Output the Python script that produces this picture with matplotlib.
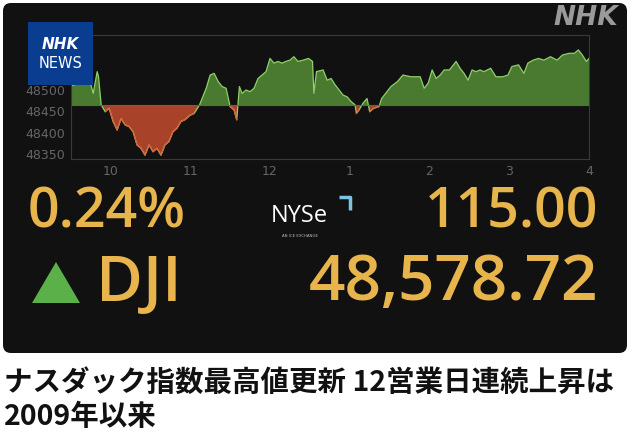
import matplotlib.pyplot as plt
import numpy as np
from matplotlib.patches import FancyBboxPatch, Rectangle, Polygon

# DJI intraday (minutes after 9:30 open, index level)
minutes = [0, 8, 14, 17, 20, 21, 23, 26, 29, 32, 35, 38, 41, 44, 47, 50, 53, 56, 59, 62,
           65, 68, 71, 74, 77, 80, 83, 86, 90, 93, 97, 102, 105, 108, 111, 114, 117, 120, 123, 125,
           127, 129, 132, 135, 138, 141, 147, 150, 153, 156, 159, 162, 165, 168, 171, 175, 179, 182, 183, 185,
           190, 193, 196, 199, 202, 205, 208, 211, 214, 215, 217, 220, 223, 225, 228, 232, 234, 237, 241, 246,
           250, 256, 263, 266, 269, 272, 275, 278, 281, 285, 290, 293, 296, 299, 302, 305, 308, 311, 316, 320,
           325, 329, 332, 337, 341, 344, 348, 352, 356, 361, 366, 370, 375, 379, 382, 385, 388, 390]
values = [48510, 48516, 48527, 48492, 48543, 48531, 48465, 48449, 48457, 48426, 48406, 48433, 48418, 48414, 48402, 48371, 48363, 48347, 48371, 48355,
          48363, 48347, 48371, 48379, 48402, 48410, 48426, 48430, 48441, 48445, 48465, 48504, 48535, 48539, 48520, 48508, 48504, 48461, 48453, 48430,
          48508, 48492, 48500, 48496, 48504, 48527, 48543, 48574, 48563, 48567, 48563, 48567, 48570, 48578, 48567, 48570, 48574, 48567, 48492, 48543,
          48547, 48523, 48527, 48512, 48500, 48488, 48484, 48473, 48465, 48445, 48453, 48469, 48480, 48449, 48457, 48461, 48480, 48492, 48508, 48520,
          48535, 48531, 48531, 48504, 48516, 48547, 48527, 48535, 48547, 48547, 48567, 48551, 48539, 48523, 48547, 48543, 48547, 48543, 48551, 48531,
          48531, 48535, 48555, 48559, 48539, 48563, 48570, 48574, 48570, 48578, 48570, 48582, 48586, 48586, 48594, 48582, 48567, 48574]
prev_close = 48463.72
yticks = [48350, 48400, 48450, 48500]
xtick_min = [30, 90, 150, 210, 270, 330, 390]
xtick_labels = ['10', '11', '12', '1', '2', '3', '4']

W, H = 632, 443
fig = plt.figure(figsize=(W / 100, H / 100), dpi=100)
fig.patch.set_facecolor('white')

bg = fig.add_axes([0, 0, 1, 1])
bg.set_xlim(0, W)
bg.set_ylim(H, 0)
bg.axis('off')
bg.add_patch(FancyBboxPatch((3, 3), 624, 350, boxstyle='round,pad=0,rounding_size=8',
                            fc='#111111', ec='none'))

gold = '#e8b44c'
num_font = 'Open Sans'
bg.text(28, 213, '0.24%', color=gold, fontsize=40, family=num_font, fontweight='semibold', va='center', ha='left')
bg.text(598, 213, '115.00', color=gold, fontsize=40, family=num_font, fontweight='semibold', va='center', ha='right')
bg.text(96, 284, 'DJI', color=gold, fontsize=46, family=num_font, fontweight='semibold', va='center', ha='left')
bg.text(598, 284, '48,578.72', color=gold, fontsize=46, family=num_font, fontweight='semibold', va='center', ha='right')
bg.add_patch(Polygon([[32, 303], [80, 303], [56, 262]], closed=True, fc='#5cb04a', ec='none'))

# NYSE logo
bg.text(271, 216, 'NYSe', color='white', fontsize=17, family='Open Sans', va='center', ha='left')
bg.text(300, 236, 'AN ICE EXCHANGE', color='#bbbbbb', fontsize=2.8, va='center', ha='center')
bg.plot([339, 350, 350], [197, 197, 210], color='#7cc4e4', lw=2.5, solid_capstyle='butt')

# NHK marks
bg.text(618, 18, 'NHK', color='#9a9a9a', fontsize=19, fontweight='heavy', style='italic',
        va='center', ha='right')

# headline
jp = ['Noto Sans CJK JP', 'DejaVu Sans']
bg.text(4, 383, 'ナスダック指数最高値更新 12営業日連続上昇は', color='#111111', fontsize=20.5,
        fontweight='bold', family=jp, va='center', ha='left')
bg.text(4, 417, '2009年以来', color='#111111', fontsize=20.5,
        fontweight='bold', family=jp, va='center', ha='left')

# chart
ax = fig.add_axes([70.6 / W, 1 - 159 / H, (589 - 70.6) / W, (159 - 35) / H])
ax.set_facecolor('#111111')
t = np.array(minutes, dtype=float)
v = np.array(values, dtype=float)
ax.fill_between(t, v, prev_close, where=v >= prev_close, interpolate=True, color='#4a7a30', lw=0)
ax.fill_between(t, v, prev_close, where=v <= prev_close, interpolate=True, color='#a8432a', lw=0)
vd = np.where(v <= prev_close, v, np.nan)
ax.plot(t, v, color='#8fcf6a', lw=0.9)
ax.plot(t, vd, color='#e0603a', lw=0.9)
ax.axhline(prev_close, color='#4a7a30', lw=0.8)
ax.set_xlim(0, 390)
ax.set_ylim(48338, 48629)
ax.set_yticks(yticks)
ax.set_xticks(xtick_min)
ax.set_xticklabels(xtick_labels)
ax.tick_params(colors='#555555', labelcolor='#666666', labelsize=9, length=0, pad=4)
for s in ax.spines.values():
    s.set_color('#3a3a3a')
    s.set_linewidth(0.8)

bg2 = fig.add_axes([0, 0, 1, 1])
bg2.set_xlim(0, W)
bg2.set_ylim(H, 0)
bg2.axis('off')
bg2.add_patch(Rectangle((28, 22), 65, 63, fc='#0a3d8f', ec='none'))
bg2.text(60.5, 44, 'NHK', color='white', fontsize=11, fontweight='bold', style='italic', ha='center', va='center')
bg2.text(60.5, 63, 'NEWS', color='white', fontsize=10.5, ha='center', va='center')

fig.savefig('out.png', dpi=100, facecolor='white')
